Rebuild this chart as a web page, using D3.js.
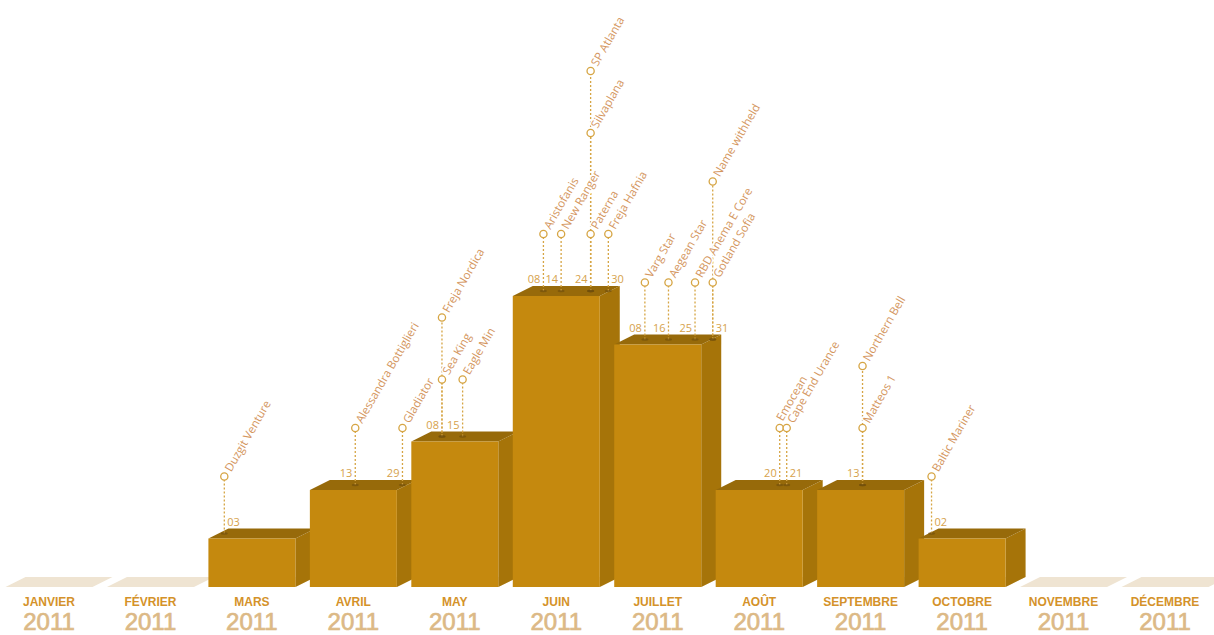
<!DOCTYPE html>
<html>
<head>
<meta charset="utf-8">
<script src="https://cdn.jsdelivr.net/npm/d3@7"></script>
<style>
  html, body { margin: 0; padding: 0; background: #ffffff; }
  svg { display: block; }
</style>
</head>
<body>
<svg id="chart" width="1214" height="635"></svg>
<script>
// ---------- DATA ----------
const months = ["JANVIER","FÉVRIER","MARS","AVRIL","MAY","JUIN","JUILLET","AOÛT","SEPTEMBRE","OCTOBRE","NOVEMBRE","DÉCEMBRE"];
const years = ["2011","2011","2011","2011","2011","2011","2011","2011","2011","2011","2011","2011"];
const counts = [0,0,1,2,3,6,5,2,2,1,0,0];

const vesselNames = ["Duzgit Venture",
  "Alessandra Bottiglieri","Gladiator",
  "Sea King","Freja Nordica","Eagle Min",
  "Aristofanis","New Ranger","Paterna","Silvaplana","SP Atlanta","Freja Hafnia",
  "Varg Star","Aegean Star","RBD Anema E Core","Gotland Sofia","Name withheld",
  "Emocean","Cape End Urance",
  "Matteos 1","Northern Bell",
  "Baltic Mariner"];
const vesselMonths = ["MARS",
  "AVRIL","AVRIL",
  "MAY","MAY","MAY",
  "JUIN","JUIN","JUIN","JUIN","JUIN","JUIN",
  "JUILLET","JUILLET","JUILLET","JUILLET","JUILLET",
  "AOÛT","AOÛT",
  "SEPTEMBRE","SEPTEMBRE",
  "OCTOBRE"];
const vesselDays = [3, 13,29, 8,8,15, 8,14,24,24,24,30, 8,16,25,31,31, 20,21, 13,13, 2];
const vesselTiers = [0, 0,0, 0,1,0, 0,0,0,2,3,0, 0,0,0,0,2, 0,0, 0,1, 0];

// ---------- LAYOUT ----------
const baseY = 587;
const frontW = 87, depthX = 20, depthY = 10;
const tierOffsets = [62, 124, 163, 225];
const minGap = 7;

const svg = d3.select("#chart");

const x = d3.scalePoint().domain(months).range([49, 1165]);
const y = d3.scaleLinear().domain([0, 6]).range([baseY, 296]);
const dayScale = d3.scaleLinear().domain([1, 31]).range([10, 10 + 30 * 2.95]);

const data = months.map((m, i) => ({ month: m, year: years[i], count: counts[i] }));

// floors (flat beige plates)
svg.append("g").selectAll("path").data(data).join("path")
  .attr("d", d => {
    const l = x(d.month) - frontW / 2, r = l + frontW;
    return `M${l},${baseY}L${l + depthX},${baseY - depthY}L${r + depthX},${baseY - depthY}L${r},${baseY}Z`;
  })
  .attr("fill", "#efe4d2");

// bars (3D boxes)
const bars = svg.append("g").selectAll("g").data(data.filter(d => d.count > 0)).join("g");
bars.append("path") // side
  .attr("d", d => {
    const r = x(d.month) + frontW / 2, t = y(d.count);
    return `M${r},${t}L${r + depthX},${t - depthY}L${r + depthX},${baseY - depthY}L${r},${baseY}Z`;
  })
  .attr("fill", "#a67409");
bars.append("path") // top
  .attr("d", d => {
    const l = x(d.month) - frontW / 2, r = l + frontW, t = y(d.count);
    return `M${l},${t}L${l + depthX},${t - depthY}L${r + depthX},${t - depthY}L${r},${t}Z`;
  })
  .attr("fill", "#976a0a");
bars.append("rect") // front
  .attr("x", d => x(d.month) - frontW / 2)
  .attr("y", d => y(d.count))
  .attr("width", frontW)
  .attr("height", d => baseY - y(d.count))
  .attr("fill", "#c5890e");

// vessels
const countByMonth = new Map(data.map(d => [d.month, d.count]));
const vessels = vesselNames.map((n, i) => {
  const m = vesselMonths[i];
  const top = y(countByMonth.get(m));
  return { name: n, month: m, day: vesselDays[i], tier: vesselTiers[i], top: top,
           cy: top - tierOffsets[vesselTiers[i]] };
});
// unique dates, positioned on the bar's top face
const dayKeys = [];
const keyMap = new Map();
vessels.forEach(v => {
  const k = v.month + "|" + v.day;
  if (!keyMap.has(k)) {
    const dk = { month: v.month, day: v.day, top: v.top, x: x(v.month) - frontW / 2 + dayScale(v.day), tight: false };
    keyMap.set(k, dk); dayKeys.push(dk);
  }
});
// keep neighbouring dates of the same month readable
dayKeys.forEach((dk, i) => {
  const prev = i > 0 && dayKeys[i - 1].month === dk.month ? dayKeys[i - 1] : null;
  if (prev && dk.x - prev.x < minGap) {
    const shift = (minGap - (dk.x - prev.x)) / 2;
    prev.x -= shift; dk.x += shift;
    prev.tight = true;
  }
  dk.right = dk.day <= 3 || dk.day >= 30 || (prev && dk.day - prev.day <= 2);
});
vessels.forEach(v => {
  const dk = keyMap.get(v.month + "|" + v.day);
  v.x = dk.x; v.tight = dk.tight && v.tier === 0;
});

const gCall = svg.append("g");
// dotted lines
gCall.selectAll("line").data(vessels).join("line")
  .attr("x1", d => d.x).attr("x2", d => d.x)
  .attr("y1", d => d.top - 5).attr("y2", d => d.cy)
  .attr("stroke", "#d6a544").attr("stroke-width", 1.3)
  .attr("stroke-dasharray", "2,2");
// base marks
gCall.selectAll("ellipse").data(vessels).join("ellipse")
  .attr("cx", d => d.x).attr("cy", d => d.top - 5)
  .attr("rx", 3.5).attr("ry", 1.2)
  .attr("fill", "#6e4c0c").attr("opacity", 0.6);

// label halos (white knockout of the lines) then label text
const labelAttrs = sel => sel
  .attr("transform", d => `translate(${d.x},${d.cy}) rotate(-60)`)
  .attr("x", 7).attr("y", d => d.tight ? -0.5 : 4)
  .attr("font-family", "'Open Sans', 'Noto Sans', sans-serif")
  .attr("font-size", 11.5)
  .text(d => d.name);
gCall.append("g").selectAll("text").data(vessels).join("text")
  .call(labelAttrs)
  .attr("fill", "#ffffff").attr("stroke", "#ffffff").attr("stroke-width", 3);
gCall.append("g").selectAll("text").data(vessels).join("text")
  .call(labelAttrs)
  .attr("fill", "#d4965e");

// circles
gCall.append("g").selectAll("circle").data(vessels).join("circle")
  .attr("cx", d => d.x).attr("cy", d => d.cy).attr("r", 3.6)
  .attr("fill", "#ffffff").attr("stroke", "#d6a544").attr("stroke-width", 1.3);

// day numbers (one per unique month/day)
const fmt = d3.format("02d");
gCall.append("g").selectAll("text").data(dayKeys).join("text")
  .attr("x", d => d.right ? d.x + 3 : d.x - 3)
  .attr("y", d => d.top - 13)
  .attr("text-anchor", d => d.right ? "start" : "end")
  .attr("font-family", "'Open Sans', 'Noto Sans', sans-serif")
  .attr("font-size", 11)
  .attr("fill", "#d6a24c")
  .text(d => fmt(d.day));

// month axis labels
const gAxis = svg.append("g");
gAxis.selectAll("text.m").data(data).join("text")
  .attr("class", "m")
  .attr("x", d => x(d.month)).attr("y", 605.5)
  .attr("text-anchor", "middle")
  .attr("font-family", "'Liberation Sans', Arial, sans-serif")
  .attr("font-weight", "bold").attr("font-size", 12)
  .attr("fill", "#d4922a")
  .text(d => d.month);
gAxis.selectAll("text.yr").data(data).join("text")
  .attr("class", "yr")
  .attr("x", d => x(d.month)).attr("y", 629.8)
  .attr("text-anchor", "middle")
  .attr("font-family", "'Liberation Sans', Arial, sans-serif")
  .attr("font-size", 24)
  .attr("fill", "#dcb986")
  .attr("stroke", "#dcb986").attr("stroke-width", 0.7)
  .text(d => d.year);
</script>
</body>
</html>
